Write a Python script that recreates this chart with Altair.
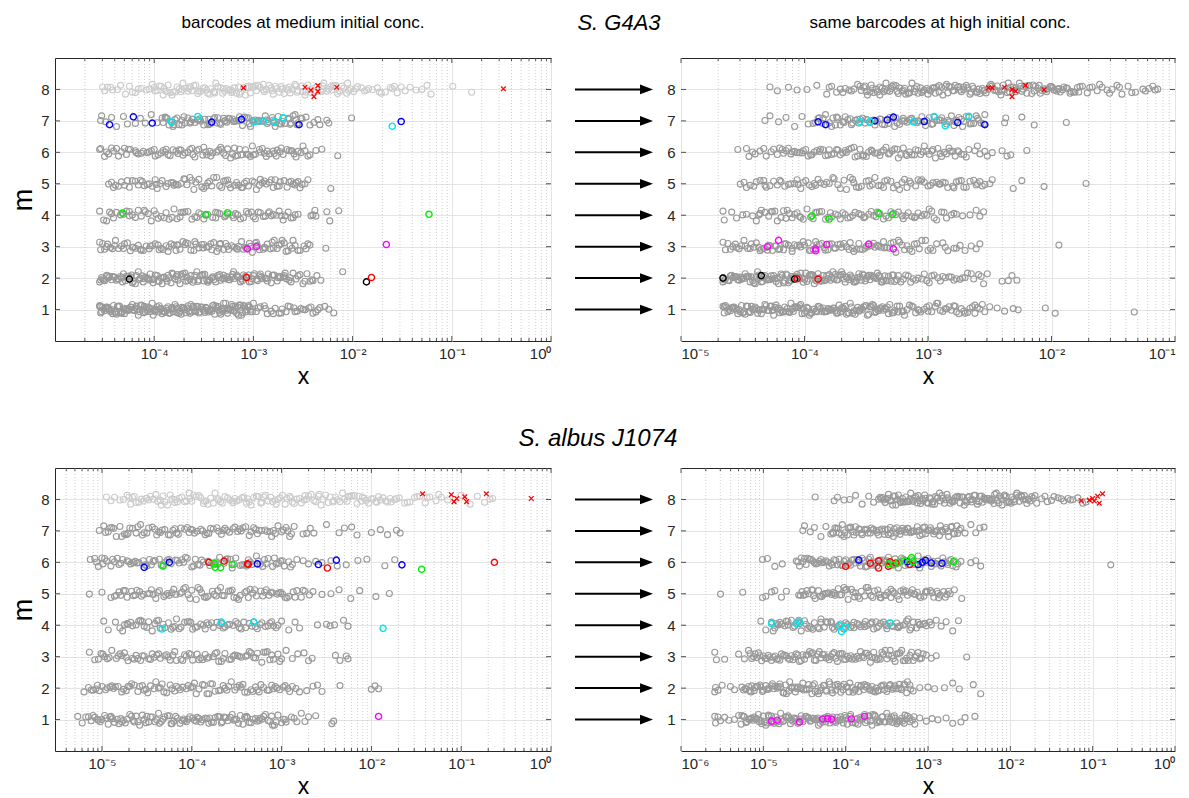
import altair as alt
import pandas as pd

FONT = "Liberation Sans"
GRAY = "#999999"
LIGHT = "#cccccc"
FRAME = "#262626"
COL = {"b": "#0000ff", "c": "#00e5ee", "g": "#00ee00", "mg": "#ff00ff",
       "r": "#ff0000", "k": "#000000"}

# hand-read vertical scatter of the circles around each m level
JIT = [0.03, -0.08, 0.12, -0.02, 0.06, -0.13, 0.01, 0.10, -0.05, 0.16, -0.11, 0.04,
       -0.03, 0.08, -0.12, 0.11, -0.04, 0.02, -0.18, 0.07, -0.07, 0.14, -0.02, 0.09,
       -0.10, 0.00, 0.05, -0.08, 0.13, -0.05, 0.08, -0.15, 0.03, -0.07, 0.10, -0.01,
       0.20, -0.09, 0.05, -0.06, 0.01, -0.12, 0.09]

# ================= S. G4A3, medium conc. (log10 x per m level) =================
tl_m8 = [-4.52,-4.50,-4.47,-4.42,-4.37,-4.34,-4.29,-4.25,-4.22,-4.16,-4.13,-4.08,-4.05,-4.02,-3.97,-3.95,-3.91,-3.86,-3.84,-3.81,-3.77,-3.73,-3.71,-3.66,-3.64,-3.60,-3.56,-3.53,-3.51,-3.46,-3.43,-3.40,-3.36,-3.33,-3.29,-3.27,-3.23,-3.19,-3.17,-3.13,-3.10,-3.06,-3.03,-3.00,-2.97,-2.93,-2.90,-2.87,-2.84,-2.80,-2.78,-2.74,-2.71,-2.67,-2.65,-2.61,-2.58,-2.55,-2.51,-2.48,-2.45,-2.42,-2.38,-2.36,-2.32,-2.29,-2.26,-2.22,-2.19,-2.15,-2.13,-2.09,-2.06,-2.02,-1.99,-1.95,-1.91,-1.88,-1.84,-1.80,-1.75,-1.71,-1.67,-1.62,-1.58,-1.55,-1.51,-1.47,-1.42,-1.36,-1.30,-1.25,-1.21,-0.99,-0.80]
tl_m8b = [-4.44,-4.19,-3.99,-3.93,-3.88,-3.79,-3.75,-3.68,-3.62,-3.58,-3.49,-3.44,-3.38,-3.31,-3.25,-3.21,-3.15,-3.08,-3.02,-2.95,-2.89,-2.82,-2.76,-2.69,-2.63,-2.57,-2.50,-2.43,-2.37,-2.30,-2.24,-2.17,-2.11,-2.04,-1.97,-1.86,-1.73,-1.60]
tl_m8c = [-4.00,-3.90,-3.82,-3.72,-3.65,-3.55,-3.47,-3.39,-3.30,-3.22,-3.14,-3.05,-2.98,-2.90,-2.81,-2.72,-2.64,-2.56,-2.47,-2.39,-2.30,-2.21,-2.13,-2.05]
tl_m7 = [-4.54,-4.53,-4.49,-4.43,-4.38,-4.31,-4.27,-4.19,-4.14,-4.09,-4.03,-3.97,-3.92,-3.89,-3.85,-3.82,-3.79,-3.75,-3.72,-3.69,-3.66,-3.62,-3.59,-3.56,-3.53,-3.49,-3.46,-3.43,-3.40,-3.36,-3.33,-3.30,-3.27,-3.24,-3.20,-3.17,-3.14,-3.11,-3.07,-3.04,-3.01,-2.98,-2.94,-2.91,-2.88,-2.85,-2.81,-2.78,-2.75,-2.72,-2.68,-2.65,-2.62,-2.58,-2.55,-2.52,-2.47,-2.43,-2.39,-2.35,-2.33,-2.26,-2.24,-2.01]
tl_m7b = [-3.91,-3.87,-3.81,-3.77,-3.70,-3.64,-3.61,-3.55,-3.50,-3.44,-3.39,-3.34,-3.29,-3.25,-3.19,-3.15,-3.09,-3.05,-3.00,-2.95,-2.90,-2.86,-2.80,-2.74,-2.70,-2.64,-2.60,-2.56,-2.51]
tl_m7c = [-3.88,-3.80,-3.72,-3.63,-3.54,-3.45,-3.37,-3.28,-3.21,-3.12,-3.03,-2.96,-2.87,-2.79,-2.71,-2.63,-2.57]
tl_m6 = [-4.55,-4.54,-4.50,-4.46,-4.41,-4.36,-4.33,-4.28,-4.24,-4.19,-4.16,-4.11,-4.07,-4.03,-3.99,-3.96,-3.91,-3.88,-3.84,-3.81,-3.76,-3.73,-3.69,-3.66,-3.62,-3.59,-3.55,-3.51,-3.48,-3.44,-3.41,-3.37,-3.33,-3.30,-3.26,-3.23,-3.19,-3.16,-3.12,-3.08,-3.05,-3.01,-2.98,-2.94,-2.91,-2.87,-2.84,-2.80,-2.77,-2.73,-2.70,-2.66,-2.62,-2.59,-2.55,-2.52,-2.48,-2.45,-2.43,-2.37,-2.31,-2.15]
tl_m6b = [-4.48,-4.38,-4.26,-4.13,-4.05,-3.93,-3.86,-3.78,-3.71,-3.64,-3.57,-3.50,-3.43,-3.35,-3.28,-3.21,-3.14,-3.07,-3.00,-2.93,-2.86,-2.79,-2.72,-2.64,-2.57,-2.50]
tl_m6c = [-4.43,-4.30,-4.18,-4.00,-3.89,-3.75,-3.61,-3.47,-3.32,-3.18,-3.03,-2.89,-2.76,-2.61]
tl_m5 = [-4.46,-4.43,-4.41,-4.36,-4.33,-4.27,-4.25,-4.19,-4.16,-4.12,-4.07,-4.05,-3.99,-3.97,-3.92,-3.88,-3.86,-3.81,-3.78,-3.73,-3.70,-3.67,-3.62,-3.60,-3.55,-3.52,-3.48,-3.44,-3.42,-3.37,-3.34,-3.30,-3.26,-3.23,-3.19,-3.17,-3.12,-3.09,-3.05,-3.01,-2.99,-2.94,-2.91,-2.87,-2.84,-2.80,-2.76,-2.73,-2.69,-2.66,-2.62,-2.58,-2.55,-2.51,-2.48,-2.45,-2.22]
tl_m5b = [-4.39,-4.22,-4.10,-4.02,-3.94,-3.83,-3.76,-3.69,-3.58,-3.50,-3.40,-3.32,-3.25,-3.15,-3.07,-2.97,-2.89,-2.82,-2.74,-2.64,-2.57,-2.53]
tl_m5c = [-4.30,-4.14,-3.98,-3.80,-3.64,-3.46,-3.28,-3.11,-2.93,-2.78,-2.60]
tl_m4 = [-4.55,-4.51,-4.45,-4.41,-4.34,-4.31,-4.25,-4.22,-4.16,-4.13,-4.09,-4.03,-4.00,-3.96,-3.90,-3.88,-3.82,-3.80,-3.74,-3.71,-3.66,-3.62,-3.59,-3.53,-3.50,-3.46,-3.41,-3.38,-3.34,-3.29,-3.26,-3.21,-3.18,-3.13,-3.10,-3.05,-3.02,-2.98,-2.93,-2.90,-2.85,-2.82,-2.77,-2.74,-2.70,-2.65,-2.62,-2.58,-2.55,-2.42,-2.40,-2.38,-2.37,-2.26,-2.23,-2.14]
tl_m4b = [-4.48,-4.38,-4.28,-4.19,-4.06,-3.98,-3.85,-3.77,-3.69,-3.57,-3.48,-3.36,-3.28,-3.16,-3.07,-2.95,-2.88,-2.80,-2.72,-2.60]
tl_m4c = [-4.43,-4.25,-4.10,-3.93,-3.73,-3.55,-3.38,-3.20,-3.00,-2.84,-2.68]
tl_m3 = [-4.55,-4.54,-4.50,-4.47,-4.42,-4.39,-4.36,-4.30,-4.27,-4.24,-4.19,-4.16,-4.11,-4.08,-4.05,-3.99,-3.96,-3.93,-3.88,-3.85,-3.80,-3.78,-3.74,-3.69,-3.66,-3.63,-3.58,-3.55,-3.52,-3.47,-3.45,-3.40,-3.37,-3.33,-3.30,-3.26,-3.22,-3.19,-3.15,-3.12,-3.08,-3.04,-3.01,-2.97,-2.94,-2.90,-2.86,-2.83,-2.79,-2.76,-2.72,-2.69,-2.65,-2.61,-2.58,-2.53,-2.49,-2.47,-2.45,-2.43,-2.27]
tl_m3b = [-4.52,-4.44,-4.33,-4.21,-4.14,-4.02,-3.91,-3.83,-3.76,-3.71,-3.60,-3.50,-3.42,-3.35,-3.28,-3.17,-3.10,-3.03,-2.96,-2.88,-2.81,-2.74,-2.67,-2.60,-2.55]
tl_m3c = [-4.48,-4.40,-4.31,-4.22,-4.13,-4.04,-3.95,-3.86,-3.77,-3.68,-3.59,-3.51,-3.43,-3.34,-3.25,-3.16,-3.07,-2.98,-2.89,-2.80,-2.71,-2.63]
tl_m2 = [-4.55,-4.53,-4.51,-4.48,-4.45,-4.43,-4.40,-4.37,-4.34,-4.32,-4.29,-4.26,-4.23,-4.21,-4.18,-4.15,-4.12,-4.10,-4.07,-4.04,-4.01,-3.99,-3.96,-3.93,-3.90,-3.88,-3.85,-3.82,-3.79,-3.77,-3.74,-3.71,-3.68,-3.66,-3.63,-3.60,-3.57,-3.55,-3.52,-3.49,-3.46,-3.44,-3.41,-3.38,-3.35,-3.33,-3.30,-3.27,-3.24,-3.22,-3.19,-3.16,-3.13,-3.11,-3.08,-3.05,-3.02,-3.00,-2.97,-2.94,-2.91,-2.88,-2.85,-2.82,-2.79,-2.76,-2.73,-2.70,-2.67,-2.63,-2.60,-2.57,-2.53,-2.50,-2.46,-2.43,-2.40,-2.36,-2.32,-2.10]
tl_m2b = [-4.54,-4.50,-4.46,-4.41,-4.36,-4.31,-4.27,-4.22,-4.16,-4.11,-4.06,-4.02,-3.97,-3.92,-3.86,-3.81,-3.76,-3.72,-3.67,-3.61,-3.56,-3.51,-3.47,-3.42,-3.36,-3.31,-3.26,-3.21,-3.17,-3.12,-3.06,-3.01,-2.96,-2.92,-2.86,-2.80,-2.74,-2.68,-2.62,-2.55,-2.48,-2.41]
tl_m2c = [-4.52,-4.47,-4.42,-4.38,-4.33,-4.28,-4.24,-4.19,-4.14,-4.09,-4.05,-4.00,-3.95,-3.91,-3.87,-3.83,-3.78,-3.73,-3.69,-3.64,-3.59,-3.54,-3.50,-3.45,-3.40,-3.34,-3.29,-3.25,-3.20,-3.15,-3.10,-3.04,-2.99,-2.93,-2.87,-2.81,-2.75,-2.69,-2.64]
tl_m1 = [-4.55,-4.54,-4.52,-4.50,-4.47,-4.45,-4.43,-4.41,-4.38,-4.36,-4.34,-4.31,-4.29,-4.27,-4.25,-4.22,-4.20,-4.18,-4.16,-4.13,-4.11,-4.09,-4.06,-4.04,-4.02,-3.99,-3.97,-3.95,-3.92,-3.90,-3.88,-3.85,-3.83,-3.81,-3.78,-3.76,-3.74,-3.71,-3.69,-3.67,-3.64,-3.62,-3.60,-3.57,-3.55,-3.53,-3.50,-3.48,-3.46,-3.43,-3.41,-3.39,-3.36,-3.34,-3.32,-3.29,-3.27,-3.25,-3.22,-3.20,-3.18,-3.15,-3.13,-3.11,-3.08,-3.06,-3.03,-3.00,-2.97,-2.93,-2.89,-2.86,-2.82,-2.78,-2.74,-2.71,-2.67,-2.63,-2.59,-2.56,-2.52,-2.48,-2.44,-2.40,-2.37,-2.33,-2.28,-2.19]
tl_m1b = [-4.55,-4.53,-4.49,-4.46,-4.42,-4.39,-4.35,-4.32,-4.28,-4.24,-4.21,-4.17,-4.14,-4.10,-4.07,-4.03,-4.00,-3.96,-3.93,-3.89,-3.86,-3.82,-3.79,-3.75,-3.72,-3.68,-3.65,-3.61,-3.58,-3.54,-3.51,-3.47,-3.44,-3.40,-3.37,-3.33,-3.30,-3.26,-3.23,-3.19,-3.16,-3.12,-3.09,-3.05,-3.01,-2.95,-2.88,-2.80,-2.72,-2.65,-2.58,-2.50,-2.42,-2.35,-2.24]
tl_m1c = [-4.54,-4.51,-4.48,-4.44,-4.40,-4.37,-4.33,-4.30,-4.26,-4.23,-4.19,-4.15,-4.12,-4.08,-4.05,-4.01,-3.98,-3.94,-3.91,-3.87,-3.84,-3.80,-3.77,-3.73,-3.70,-3.66,-3.63,-3.59,-3.56,-3.52,-3.49,-3.45,-3.42,-3.38,-3.35,-3.31,-3.28,-3.24,-3.21,-3.17,-3.14,-3.10,-3.07,-3.04,-3.02]

# ================= S. G4A3, high conc. =================
tr_m8 = [-4.28,-4.22,-4.13,-4.06,-3.98,-3.90,-3.82,-3.78,-3.74,-3.71,-3.67,-3.64,-3.60,-3.57,-3.54,-3.51,-3.49,-3.46,-3.44,-3.41,-3.39,-3.36,-3.34,-3.31,-3.29,-3.26,-3.24,-3.21,-3.19,-3.16,-3.14,-3.11,-3.09,-3.06,-3.04,-3.01,-2.99,-2.96,-2.94,-2.91,-2.89,-2.86,-2.84,-2.81,-2.79,-2.76,-2.74,-2.71,-2.69,-2.66,-2.64,-2.61,-2.59,-2.56,-2.54,-2.51,-2.49,-2.46,-2.44,-2.41,-2.39,-2.36,-2.34,-2.31,-2.29,-2.26,-2.24,-2.21,-2.19,-2.16,-2.14,-2.11,-2.09,-2.06,-2.04,-2.01,-1.99,-1.96,-1.94,-1.91,-1.88,-1.85,-1.82,-1.79,-1.75,-1.71,-1.67,-1.63,-1.59,-1.55,-1.51,-1.47,-1.43,-1.38,-1.32,-1.26,-1.21,-1.16,-1.14]
tr_m8b = [-3.80,-3.69,-3.62,-3.55,-3.50,-3.47,-3.42,-3.37,-3.33,-3.28,-3.23,-3.18,-3.13,-3.08,-3.03,-2.98,-2.93,-2.88,-2.83,-2.78,-2.73,-2.68,-2.63,-2.58,-2.53,-2.48,-2.43,-2.38,-2.33,-2.28,-2.23,-2.18,-2.13,-2.08,-2.03,-1.98,-1.93,-1.87,-1.81,-1.77,-1.69,-1.61,-1.53,-1.45,-1.35,-1.24,-1.18]
tr_m8c = [-3.52,-3.45,-3.39,-3.35,-3.30,-3.25,-3.20,-3.15,-3.11,-3.05,-3.00,-2.95,-2.91,-2.85,-2.80,-2.75,-2.71,-2.65,-2.60,-2.55,-2.50,-2.45,-2.40,-2.35,-2.30,-2.25,-2.20,-2.15,-2.10,-2.05,-2.00,-1.95,-1.90,-1.84,-1.78]
tr_m7 = [-4.32,-4.28,-4.21,-4.15,-4.08,-4.02,-3.97,-3.93,-3.89,-3.86,-3.83,-3.80,-3.77,-3.74,-3.71,-3.68,-3.65,-3.62,-3.59,-3.56,-3.53,-3.50,-3.47,-3.44,-3.41,-3.38,-3.35,-3.32,-3.29,-3.26,-3.23,-3.20,-3.17,-3.14,-3.11,-3.08,-3.05,-3.02,-2.99,-2.96,-2.93,-2.90,-2.87,-2.84,-2.81,-2.78,-2.75,-2.72,-2.69,-2.66,-2.63,-2.60,-2.57,-2.54,-2.38,-2.37,-2.24,-2.14,-1.88]
tr_m7b = [-3.91,-3.85,-3.78,-3.73,-3.67,-3.61,-3.55,-3.49,-3.43,-3.37,-3.31,-3.25,-3.19,-3.13,-3.07,-3.01,-2.95,-2.89,-2.83,-2.77,-2.71,-2.65,-2.59,-2.55]
tr_m7c = [-3.88,-3.82,-3.75,-3.69,-3.63,-3.57,-3.51,-3.45,-3.39,-3.33,-3.27,-3.21,-3.15,-3.09,-3.03,-2.97,-2.91,-2.85,-2.79,-2.73,-2.67,-2.61]
tr_m6 = [-4.54,-4.47,-4.45,-4.40,-4.36,-4.31,-4.27,-4.22,-4.18,-4.15,-4.11,-4.08,-4.04,-4.01,-3.97,-3.94,-3.90,-3.87,-3.83,-3.80,-3.76,-3.73,-3.69,-3.66,-3.62,-3.59,-3.55,-3.52,-3.48,-3.45,-3.41,-3.38,-3.34,-3.31,-3.27,-3.24,-3.20,-3.17,-3.13,-3.10,-3.06,-3.03,-2.99,-2.96,-2.92,-2.89,-2.85,-2.82,-2.78,-2.75,-2.71,-2.67,-2.62,-2.58,-2.54,-2.48,-2.40,-2.36,-2.33,-2.20]
tr_m6b = [-4.42,-4.33,-4.25,-4.17,-4.10,-4.02,-3.95,-3.88,-3.81,-3.74,-3.67,-3.60,-3.53,-3.46,-3.39,-3.32,-3.25,-3.18,-3.11,-3.04,-2.97,-2.90,-2.83,-2.76,-2.69,-2.60,-2.52]
tr_m6c = [-4.20,-4.13,-4.06,-3.99,-3.92,-3.85,-3.78,-3.71,-3.64,-3.57,-3.50,-3.43,-3.36,-3.29,-3.22,-3.15,-3.08,-3.01,-2.94,-2.87,-2.80,-2.73]
tr_m5 = [-4.52,-4.49,-4.47,-4.41,-4.39,-4.33,-4.31,-4.25,-4.22,-4.19,-4.13,-4.11,-4.06,-4.03,-3.99,-3.94,-3.92,-3.87,-3.84,-3.80,-3.76,-3.73,-3.68,-3.66,-3.61,-3.58,-3.54,-3.50,-3.47,-3.43,-3.40,-3.35,-3.33,-3.28,-3.25,-3.21,-3.17,-3.14,-3.10,-3.06,-3.03,-2.98,-2.96,-2.91,-2.88,-2.84,-2.80,-2.77,-2.73,-2.69,-2.66,-2.61,-2.58,-2.54,-2.50,-2.48,-2.31,-2.24,-2.06,-1.72]
tr_m5b = [-4.44,-4.36,-4.28,-4.16,-4.08,-4.01,-3.96,-3.89,-3.82,-3.71,-3.63,-3.56,-3.45,-3.38,-3.30,-3.23,-3.15,-3.08,-3.00,-2.93,-2.86,-2.79,-2.71,-2.63,-2.56]
tr_m5c = [-4.32,-4.20,-4.05,-3.91,-3.77,-3.60,-3.48,-3.36,-3.19,-3.05,-2.90,-2.75,-2.60]
tr_m4 = [-4.66,-4.65,-4.59,-4.55,-4.50,-4.47,-4.42,-4.37,-4.35,-4.29,-4.26,-4.22,-4.17,-4.15,-4.10,-4.06,-4.03,-3.98,-3.95,-3.90,-3.86,-3.83,-3.78,-3.75,-3.71,-3.67,-3.63,-3.59,-3.56,-3.51,-3.48,-3.44,-3.39,-3.36,-3.32,-3.28,-3.24,-3.20,-3.16,-3.13,-3.08,-3.05,-3.01,-2.97,-2.93,-2.89,-2.85,-2.81,-2.77,-2.72,-2.66,-2.61,-2.58,-2.55]
tr_m4b = [-4.39,-4.32,-4.24,-4.19,-4.12,-4.08,-4.01,-3.93,-3.88,-3.81,-3.73,-3.69,-3.61,-3.54,-3.46,-3.41,-3.34,-3.26,-3.18,-3.11,-3.03,-2.95,-2.87,-2.79]
tr_m4c = [-4.36,-4.27,-4.14,-4.04,-3.91,-3.79,-3.65,-3.52,-3.42,-3.30,-3.21,-3.10,-2.99]
tr_m3 = [-4.66,-4.64,-4.60,-4.56,-4.53,-4.49,-4.46,-4.43,-4.39,-4.36,-4.33,-4.29,-4.26,-4.23,-4.20,-4.16,-4.13,-4.10,-4.06,-4.03,-4.00,-3.96,-3.93,-3.90,-3.86,-3.83,-3.80,-3.76,-3.73,-3.70,-3.66,-3.63,-3.60,-3.56,-3.53,-3.50,-3.46,-3.43,-3.40,-3.36,-3.33,-3.30,-3.26,-3.23,-3.19,-3.15,-3.11,-3.07,-3.02,-2.98,-2.93,-2.88,-2.84,-2.79,-2.74,-2.70,-2.65,-2.61,-2.58,-1.94]
tr_m3b = [-4.62,-4.55,-4.48,-4.41,-4.35,-4.28,-4.21,-4.15,-4.08,-4.01,-3.95,-3.88,-3.81,-3.75,-3.68,-3.61,-3.55,-3.48,-3.41,-3.35,-3.28,-3.21,-3.13,-3.05,-2.96,-2.86,-2.77]
tr_m3c = [-4.58,-4.51,-4.44,-4.37,-4.30,-4.24,-4.17,-4.10,-4.04,-3.97,-3.91,-3.84,-3.78,-3.71,-3.64,-3.58,-3.51,-3.44,-3.38,-3.31,-3.24,-3.17,-3.09,-3.00]
tr_m2 = [-4.66,-4.66,-4.62,-4.59,-4.57,-4.54,-4.52,-4.49,-4.47,-4.44,-4.42,-4.39,-4.37,-4.34,-4.32,-4.29,-4.27,-4.24,-4.22,-4.19,-4.17,-4.14,-4.12,-4.09,-4.07,-4.04,-4.02,-3.99,-3.97,-3.94,-3.92,-3.89,-3.87,-3.84,-3.82,-3.79,-3.77,-3.74,-3.72,-3.69,-3.67,-3.64,-3.62,-3.59,-3.57,-3.54,-3.52,-3.49,-3.47,-3.44,-3.42,-3.39,-3.37,-3.34,-3.32,-3.29,-3.27,-3.24,-3.20,-3.16,-3.12,-3.08,-3.03,-2.99,-2.95,-2.90,-2.86,-2.81,-2.77,-2.72,-2.68,-2.63,-2.59,-2.55,-2.52,-2.40,-2.35,-2.32,-2.28]
tr_m2b = [-4.65,-4.61,-4.58,-4.55,-4.51,-4.48,-4.45,-4.41,-4.38,-4.35,-4.31,-4.28,-4.25,-4.21,-4.18,-4.15,-4.11,-4.08,-4.05,-4.01,-3.98,-3.95,-3.91,-3.88,-3.85,-3.81,-3.78,-3.75,-3.71,-3.68,-3.65,-3.61,-3.58,-3.55,-3.51,-3.48,-3.45,-3.41,-3.38,-3.35,-3.30,-3.25,-3.18,-3.10,-3.01,-2.92,-2.83,-2.74,-2.65,-2.57]
tr_m2c = [-4.64,-4.60,-4.56,-4.53,-4.50,-4.46,-4.43,-4.40,-4.36,-4.33,-4.30,-4.26,-4.23,-4.20,-4.16,-4.13,-4.10,-4.06,-4.03,-4.00,-3.96,-3.93,-3.90,-3.86,-3.83,-3.80,-3.76,-3.73,-3.70,-3.66,-3.63,-3.60,-3.56,-3.53,-3.50,-3.46,-3.43,-3.40,-3.36,-3.33,-3.28,-3.22,-3.14,-3.05,-2.97,-2.88,-2.79,-2.70]
tr_m1 = [-4.66,-4.65,-4.63,-4.60,-4.58,-4.55,-4.53,-4.51,-4.48,-4.46,-4.44,-4.41,-4.39,-4.37,-4.34,-4.32,-4.30,-4.27,-4.25,-4.23,-4.20,-4.18,-4.16,-4.13,-4.11,-4.09,-4.06,-4.04,-4.02,-3.99,-3.97,-3.95,-3.92,-3.90,-3.88,-3.85,-3.83,-3.81,-3.78,-3.76,-3.74,-3.71,-3.69,-3.67,-3.64,-3.62,-3.60,-3.57,-3.55,-3.53,-3.50,-3.48,-3.46,-3.43,-3.41,-3.39,-3.36,-3.34,-3.31,-3.27,-3.23,-3.19,-3.15,-3.10,-3.06,-3.01,-2.97,-2.92,-2.88,-2.83,-2.79,-2.75,-2.71,-2.66,-2.62,-2.58,-2.54,-2.50,-2.44,-2.38,-2.31,-2.27,-2.05,-1.97,-1.33]
tr_m1b = [-4.64,-4.62,-4.59,-4.56,-4.54,-4.50,-4.47,-4.45,-4.42,-4.40,-4.36,-4.33,-4.31,-4.28,-4.26,-4.22,-4.19,-4.17,-4.14,-4.12,-4.08,-4.05,-4.03,-4.00,-3.98,-3.94,-3.91,-3.89,-3.86,-3.84,-3.80,-3.77,-3.75,-3.72,-3.70,-3.66,-3.63,-3.61,-3.58,-3.56,-3.52,-3.49,-3.47,-3.44,-3.42,-3.38,-3.35,-3.32,-3.29,-3.25,-3.21,-3.17,-3.12,-3.08,-3.03,-2.99,-2.94,-2.90,-2.85,-2.81,-2.77,-2.73,-2.68,-2.64,-2.60,-2.56]
tr_m1c = [-4.65,-4.61,-4.57,-4.52,-4.49,-4.43,-4.38,-4.35,-4.29,-4.24,-4.21,-4.15,-4.10,-4.07,-4.01,-3.96,-3.93,-3.87,-3.82,-3.79,-3.73,-3.68,-3.65,-3.59,-3.54,-3.51,-3.45,-3.40,-3.37,-3.33,-3.28,-3.24,-3.20,-3.13,-3.07,-3.00,-2.93,-2.86,-2.78,-2.70,-2.62]

# ================= S. albus J1074, medium conc. =================
bl_m8 = [-4.95,-4.90,-4.86,-4.80,-4.76,-4.72,-4.68,-4.64,-4.59,-4.56,-4.51,-4.48,-4.43,-4.40,-4.35,-4.32,-4.27,-4.24,-4.19,-4.16,-4.11,-4.08,-4.03,-4.00,-3.95,-3.92,-3.87,-3.84,-3.79,-3.76,-3.71,-3.68,-3.63,-3.60,-3.55,-3.52,-3.47,-3.44,-3.39,-3.36,-3.31,-3.28,-3.23,-3.20,-3.15,-3.12,-3.07,-3.04,-2.99,-2.96,-2.91,-2.88,-2.83,-2.80,-2.75,-2.72,-2.67,-2.64,-2.59,-2.56,-2.51,-2.48,-2.43,-2.40,-2.35,-2.32,-2.27,-2.24,-2.19,-2.16,-2.11,-2.08,-2.03,-2.00,-1.95,-1.92,-1.87,-1.84,-1.79,-1.74,-1.69,-1.63,-1.57,-1.52,-1.46,-1.40,-1.35,-1.28,-1.22,-1.15,-1.07,-1.00,-0.90,-0.82,-0.74,-0.68,-0.65]
bl_m8b = [-4.70,-4.62,-4.54,-4.46,-4.38,-4.30,-4.22,-4.14,-4.06,-3.98,-3.90,-3.82,-3.74,-3.66,-3.58,-3.50,-3.42,-3.34,-3.26,-3.18,-3.10,-3.02,-2.94,-2.86,-2.78,-2.70,-2.62,-2.54,-2.46,-2.38,-2.30,-2.22,-2.14,-2.06,-1.98,-1.90,-1.82,-1.72,-1.60,-1.49,-1.38,-1.25]
bl_m8c = [-4.66,-4.50,-4.34,-4.18,-4.02,-3.86,-3.70,-3.54,-3.38,-3.22,-3.06,-2.90,-2.74,-2.58,-2.42,-2.26,-2.10,-1.94,-1.78]
bl_m7 = [-5.03,-4.98,-4.93,-4.89,-4.84,-4.80,-4.75,-4.71,-4.66,-4.62,-4.57,-4.53,-4.48,-4.44,-4.39,-4.35,-4.30,-4.26,-4.21,-4.17,-4.12,-4.08,-4.03,-3.99,-3.94,-3.90,-3.85,-3.81,-3.76,-3.72,-3.67,-3.63,-3.58,-3.54,-3.49,-3.45,-3.40,-3.36,-3.31,-3.27,-3.22,-3.18,-3.13,-3.09,-3.04,-3.00,-2.95,-2.91,-2.86,-2.76,-2.72,-2.68,-2.64,-2.50,-2.36,-2.30,-2.22,-2.16,-2.00,-1.90,-1.82,-1.72,-1.68]
bl_m7b = [-4.96,-4.87,-4.78,-4.69,-4.60,-4.50,-4.41,-4.33,-4.24,-4.15,-4.05,-3.97,-3.88,-3.79,-3.70,-3.61,-3.52,-3.43,-3.34,-3.25,-3.16,-3.07,-2.98,-2.89]
bl_m7c = [-4.91,-4.73,-4.55,-4.37,-4.19,-4.01,-3.83,-3.65,-3.47,-3.29,-3.11,-2.93]
bl_m6 = [-5.13,-5.08,-5.04,-4.99,-4.95,-4.90,-4.86,-4.81,-4.77,-4.72,-4.68,-4.63,-4.59,-4.54,-4.50,-4.45,-4.41,-4.36,-4.32,-4.27,-4.23,-4.18,-4.14,-4.09,-4.05,-4.00,-3.96,-3.91,-3.87,-3.82,-3.78,-3.73,-3.69,-3.64,-3.60,-3.55,-3.51,-3.46,-3.42,-3.37,-3.33,-3.28,-3.24,-3.19,-3.15,-3.10,-3.06,-3.01,-2.97,-2.92,-2.88,-2.83,-2.76,-2.70,-2.62,-2.55,-2.45,-2.38,-2.28,-2.15,-2.05,-1.85,-1.74]
bl_m6b = [-5.06,-4.97,-4.88,-4.79,-4.70,-4.61,-4.52,-4.43,-4.34,-4.25,-4.16,-4.07,-3.98,-3.89,-3.80,-3.71,-3.62,-3.53,-3.44,-3.35,-3.26,-3.17,-3.08,-2.99,-2.90]
bl_m6c = [-5.00,-4.83,-4.65,-4.47,-4.29,-4.11,-3.93,-3.75,-3.57,-3.39,-3.21,-3.03]
bl_m5 = [-5.14,-5.00,-4.90,-4.86,-4.81,-4.76,-4.72,-4.67,-4.63,-4.58,-4.54,-4.49,-4.45,-4.40,-4.36,-4.31,-4.27,-4.22,-4.18,-4.13,-4.09,-4.04,-4.00,-3.95,-3.91,-3.86,-3.82,-3.77,-3.73,-3.68,-3.64,-3.59,-3.55,-3.50,-3.46,-3.41,-3.37,-3.32,-3.28,-3.23,-3.19,-3.14,-3.10,-3.05,-3.01,-2.96,-2.92,-2.87,-2.83,-2.78,-2.74,-2.69,-2.65,-2.55,-2.45,-2.36,-2.23,-2.13,-1.95,-1.80]
bl_m5b = [-4.84,-4.74,-4.65,-4.56,-4.47,-4.38,-4.29,-4.20,-4.11,-4.02,-3.93,-3.84,-3.75,-3.66,-3.57,-3.48,-3.39,-3.30,-3.21,-3.12,-3.03,-2.94,-2.85,-2.76]
bl_m5c = [-4.79,-4.61,-4.43,-4.25,-4.07,-3.89,-3.71,-3.53,-3.35,-3.17,-2.99]
bl_m4 = [-4.98,-4.93,-4.85,-4.80,-4.75,-4.71,-4.66,-4.62,-4.57,-4.53,-4.48,-4.44,-4.39,-4.35,-4.30,-4.26,-4.21,-4.17,-4.12,-4.08,-4.03,-3.99,-3.94,-3.90,-3.85,-3.81,-3.76,-3.72,-3.67,-3.63,-3.58,-3.54,-3.49,-3.45,-3.40,-3.36,-3.31,-3.27,-3.22,-3.18,-3.13,-3.09,-3.04,-3.00,-2.92,-2.85,-2.80,-2.60,-2.50,-2.46,-2.41,-2.31,-2.26]
bl_m4b = [-4.77,-4.68,-4.59,-4.50,-4.41,-4.32,-4.23,-4.14,-4.05,-3.96,-3.87,-3.78,-3.69,-3.60,-3.51,-3.42,-3.33,-3.24,-3.15,-3.06]
bl_m4c = [-4.72,-4.55,-4.37,-4.19,-4.01,-3.83,-3.65,-3.47,-3.29,-3.11]
bl_m3 = [-5.14,-5.08,-5.04,-4.99,-4.94,-4.89,-4.84,-4.80,-4.75,-4.71,-4.66,-4.62,-4.57,-4.53,-4.48,-4.44,-4.39,-4.35,-4.30,-4.26,-4.21,-4.17,-4.12,-4.08,-4.03,-3.99,-3.94,-3.90,-3.85,-3.81,-3.76,-3.72,-3.67,-3.63,-3.58,-3.54,-3.49,-3.45,-3.40,-3.36,-3.31,-3.27,-3.22,-3.18,-3.13,-3.09,-3.04,-3.00,-2.95,-2.88,-2.82,-2.75,-2.70,-2.66,-2.40,-2.35,-2.28,-2.26]
bl_m3b = [-5.01,-4.92,-4.82,-4.73,-4.64,-4.55,-4.46,-4.37,-4.28,-4.19,-4.10,-4.01,-3.92,-3.83,-3.74,-3.65,-3.56,-3.47,-3.38,-3.29,-3.20,-3.11,-3.02]
bl_m3c = [-4.97,-4.78,-4.60,-4.42,-4.24,-4.06,-3.88,-3.70,-3.52,-3.34,-3.16]
bl_m2 = [-5.20,-5.15,-5.10,-5.05,-5.00,-4.96,-4.91,-4.87,-4.82,-4.78,-4.73,-4.69,-4.64,-4.60,-4.55,-4.51,-4.46,-4.42,-4.37,-4.33,-4.28,-4.24,-4.19,-4.15,-4.10,-4.06,-4.01,-3.97,-3.92,-3.88,-3.83,-3.79,-3.74,-3.70,-3.65,-3.61,-3.56,-3.52,-3.47,-3.43,-3.38,-3.34,-3.29,-3.25,-3.20,-3.16,-3.11,-3.07,-3.02,-2.98,-2.93,-2.88,-2.80,-2.72,-2.65,-2.60,-2.55,-2.35,-2.00,-1.96,-1.92]
bl_m2b = [-5.12,-5.03,-4.94,-4.85,-4.76,-4.67,-4.58,-4.49,-4.40,-4.31,-4.22,-4.13,-4.04,-3.95,-3.86,-3.77,-3.68,-3.59,-3.50,-3.41,-3.32,-3.23,-3.14,-3.05,-2.96,-2.84]
bl_m2c = [-5.07,-4.89,-4.71,-4.53,-4.35,-4.17,-3.99,-3.81,-3.63,-3.45,-3.27,-3.09,-2.91]
bl_m1 = [-5.27,-5.22,-5.18,-5.12,-5.08,-5.04,-5.00,-4.97,-4.93,-4.90,-4.86,-4.83,-4.79,-4.76,-4.72,-4.69,-4.65,-4.62,-4.58,-4.55,-4.51,-4.48,-4.44,-4.41,-4.37,-4.34,-4.30,-4.27,-4.23,-4.20,-4.16,-4.13,-4.09,-4.06,-4.02,-3.99,-3.95,-3.92,-3.88,-3.85,-3.81,-3.78,-3.74,-3.71,-3.67,-3.64,-3.60,-3.57,-3.53,-3.50,-3.46,-3.43,-3.39,-3.36,-3.32,-3.29,-3.25,-3.22,-3.18,-3.15,-3.11,-3.08,-3.04,-3.00,-2.95,-2.89,-2.83,-2.78,-2.74,-2.70,-2.62,-2.44,-2.42]
bl_m1b = [-5.10,-5.02,-4.95,-4.88,-4.81,-4.74,-4.67,-4.60,-4.53,-4.46,-4.39,-4.32,-4.25,-4.18,-4.11,-4.04,-3.97,-3.90,-3.83,-3.76,-3.69,-3.62,-3.55,-3.48,-3.41,-3.34,-3.27,-3.20,-3.13,-3.06,-2.98,-2.86]
bl_m1c = [-5.15,-5.05,-4.91,-4.78,-4.64,-4.50,-4.36,-4.22,-4.08,-3.94,-3.80,-3.66,-3.52,-3.38,-3.24,-3.10,-2.96]

# ================= S. albus J1074, high conc. =================
br_m8 = [-4.37,-4.14,-4.10,-4.02,-3.95,-3.88,-3.80,-3.72,-3.66,-3.60,-3.57,-3.54,-3.51,-3.48,-3.45,-3.42,-3.39,-3.36,-3.33,-3.30,-3.27,-3.24,-3.21,-3.18,-3.15,-3.12,-3.09,-3.06,-3.03,-3.00,-2.97,-2.94,-2.91,-2.88,-2.85,-2.82,-2.79,-2.76,-2.73,-2.70,-2.67,-2.64,-2.61,-2.58,-2.55,-2.52,-2.49,-2.46,-2.43,-2.40,-2.37,-2.34,-2.31,-2.28,-2.25,-2.22,-2.19,-2.16,-2.13,-2.10,-2.07,-2.04,-2.01,-1.98,-1.95,-1.92,-1.89,-1.86,-1.83,-1.80,-1.76,-1.72,-1.68,-1.62,-1.55,-1.47,-1.42,-1.35,-1.30,-1.24,-1.18,-1.12,-1.08]
br_m8b = [-3.58,-3.52,-3.46,-3.40,-3.34,-3.28,-3.22,-3.16,-3.10,-3.04,-2.98,-2.92,-2.86,-2.80,-2.74,-2.68,-2.62,-2.56,-2.50,-2.44,-2.38,-2.32,-2.26,-2.20,-2.14,-2.08,-2.02,-1.96,-1.90,-1.84,-1.78,-1.70,-1.58,-1.50,-1.38,-1.27]
br_m8c = [-3.55,-3.49,-3.43,-3.37,-3.31,-3.25,-3.19,-3.13,-3.07,-3.01,-2.95,-2.89,-2.83,-2.77,-2.71,-2.65,-2.59,-2.53,-2.47,-2.41,-2.35,-2.29,-2.23,-2.17,-2.11,-2.05,-1.99,-1.93,-1.87,-1.81,-1.74]
br_m7 = [-4.52,-4.50,-4.43,-4.38,-4.30,-4.24,-4.18,-4.15,-4.11,-4.08,-4.04,-4.01,-3.97,-3.94,-3.90,-3.87,-3.83,-3.80,-3.76,-3.73,-3.69,-3.66,-3.62,-3.59,-3.55,-3.52,-3.48,-3.45,-3.41,-3.38,-3.34,-3.31,-3.27,-3.24,-3.20,-3.17,-3.13,-3.10,-3.06,-3.03,-2.99,-2.96,-2.92,-2.89,-2.85,-2.82,-2.78,-2.75,-2.71,-2.68,-2.64,-2.60,-2.55,-2.48,-2.42,-2.37,-2.32]
br_m7b = [-4.16,-4.09,-4.02,-3.95,-3.88,-3.81,-3.74,-3.67,-3.60,-3.53,-3.46,-3.39,-3.32,-3.25,-3.18,-3.11,-3.04,-2.97,-2.90,-2.83,-2.76,-2.69,-2.62]
br_m7c = [-4.13,-4.05,-3.98,-3.91,-3.84,-3.77,-3.70,-3.63,-3.56,-3.49,-3.42,-3.35,-3.28,-3.21,-3.14,-3.07,-3.00,-2.93,-2.86,-2.79,-2.72,-2.65]
br_m6 = [-5.01,-4.95,-4.86,-4.77,-4.60,-4.56,-4.52,-4.48,-4.44,-4.40,-4.36,-4.32,-4.28,-4.24,-4.20,-4.16,-4.12,-4.08,-4.04,-4.00,-3.96,-3.92,-3.88,-3.84,-3.80,-3.76,-3.72,-3.68,-3.64,-3.60,-3.56,-3.52,-3.48,-3.44,-3.40,-3.36,-3.32,-3.28,-3.24,-3.20,-3.16,-3.12,-3.08,-3.04,-3.00,-2.96,-2.92,-2.88,-2.84,-2.80,-2.76,-2.72,-2.68,-2.64,-2.60,-2.48,-2.42,-2.36,-0.78]
br_m6b = [-4.58,-4.50,-4.42,-4.34,-4.26,-4.18,-4.10,-4.02,-3.94,-3.86,-3.78,-3.70,-3.62,-3.54,-3.46,-3.38,-3.30,-3.22,-3.14,-3.06,-2.98,-2.90,-2.82,-2.74,-2.66]
br_m6c = [-4.54,-4.46,-4.38,-4.30,-4.22,-4.14,-4.06,-3.98,-3.90,-3.82,-3.74,-3.66,-3.58,-3.50,-3.42,-3.34,-3.26,-3.18,-3.10,-3.02,-2.94,-2.86,-2.78,-2.70]
br_m5 = [-5.52,-5.25,-5.01,-4.97,-4.90,-4.86,-4.78,-4.72,-4.57,-4.53,-4.49,-4.45,-4.41,-4.37,-4.33,-4.29,-4.25,-4.21,-4.17,-4.13,-4.09,-4.05,-4.01,-3.97,-3.93,-3.89,-3.85,-3.81,-3.77,-3.73,-3.69,-3.65,-3.61,-3.57,-3.53,-3.49,-3.45,-3.41,-3.37,-3.33,-3.29,-3.25,-3.21,-3.17,-3.13,-3.09,-3.05,-3.01,-2.97,-2.93,-2.89,-2.85,-2.81,-2.77,-2.73,-2.68,-2.59]
br_m5b = [-4.55,-4.47,-4.39,-4.31,-4.23,-4.15,-4.07,-3.99,-3.91,-3.83,-3.75,-3.67,-3.59,-3.51,-3.43,-3.35,-3.27,-3.19,-3.11,-3.03,-2.95,-2.87,-2.79]
br_m5c = [-4.51,-4.40,-4.27,-4.13,-4.02,-3.88,-3.72,-3.58,-3.45,-3.30,-3.16,-3.02,-2.88,-2.75]
br_m4 = [-5.03,-4.97,-4.90,-4.86,-4.82,-4.78,-4.74,-4.70,-4.66,-4.62,-4.58,-4.54,-4.50,-4.46,-4.42,-4.38,-4.34,-4.30,-4.26,-4.22,-4.18,-4.14,-4.10,-4.06,-4.02,-3.98,-3.94,-3.90,-3.86,-3.82,-3.78,-3.74,-3.70,-3.66,-3.62,-3.58,-3.54,-3.50,-3.46,-3.42,-3.38,-3.34,-3.30,-3.26,-3.22,-3.18,-3.14,-3.10,-3.06,-3.02,-2.96,-2.90,-2.84,-2.78,-2.70,-2.63]
br_m4b = [-4.88,-4.80,-4.72,-4.64,-4.56,-4.48,-4.40,-4.32,-4.24,-4.16,-4.08,-4.00,-3.92,-3.84,-3.76,-3.68,-3.60,-3.52,-3.44,-3.36,-3.28,-3.20,-3.12,-3.04]
br_m4c = [-4.84,-4.70,-4.57,-4.44,-4.30,-4.17,-4.03,-3.90,-3.77,-3.63,-3.50,-3.37,-3.24,-3.10,-2.98]
br_m3 = [-5.59,-5.57,-5.47,-5.30,-5.23,-5.18,-5.14,-5.10,-5.06,-5.02,-4.98,-4.94,-4.90,-4.86,-4.82,-4.78,-4.74,-4.70,-4.66,-4.62,-4.58,-4.54,-4.50,-4.46,-4.42,-4.38,-4.34,-4.30,-4.26,-4.22,-4.18,-4.14,-4.10,-4.06,-4.02,-3.98,-3.94,-3.90,-3.86,-3.82,-3.78,-3.74,-3.70,-3.66,-3.62,-3.58,-3.54,-3.50,-3.46,-3.42,-3.38,-3.34,-3.30,-3.26,-3.22,-3.18,-3.14,-3.10,-3.06,-3.02,-2.96,-2.90,-2.53]
br_m3b = [-5.16,-5.08,-5.00,-4.92,-4.84,-4.76,-4.68,-4.60,-4.52,-4.44,-4.36,-4.28,-4.20,-4.12,-4.04,-3.96,-3.88,-3.80,-3.72,-3.64,-3.56,-3.48,-3.40,-3.32,-3.24,-3.16,-3.08]
br_m3c = [-5.12,-5.04,-4.96,-4.88,-4.80,-4.72,-4.64,-4.56,-4.48,-4.40,-4.32,-4.24,-4.16,-4.08,-4.00,-3.92,-3.84,-3.76,-3.68,-3.60,-3.52,-3.44,-3.36,-3.28,-3.20,-3.12]
br_m2 = [-5.59,-5.58,-5.55,-5.50,-5.40,-5.35,-5.26,-5.22,-5.18,-5.15,-5.11,-5.08,-5.04,-5.01,-4.97,-4.94,-4.90,-4.87,-4.83,-4.80,-4.76,-4.73,-4.69,-4.66,-4.62,-4.59,-4.55,-4.52,-4.48,-4.45,-4.41,-4.38,-4.34,-4.31,-4.27,-4.24,-4.20,-4.17,-4.13,-4.10,-4.06,-4.03,-3.99,-3.96,-3.92,-3.89,-3.85,-3.82,-3.78,-3.75,-3.71,-3.68,-3.64,-3.61,-3.57,-3.54,-3.50,-3.47,-3.43,-3.40,-3.36,-3.33,-3.29,-3.26,-3.22,-3.18,-3.10,-3.00,-2.92,-2.80,-2.70,-2.62,-2.45,-2.36]
br_m2b = [-5.24,-5.17,-5.10,-5.03,-4.96,-4.89,-4.82,-4.75,-4.68,-4.61,-4.54,-4.47,-4.40,-4.33,-4.26,-4.19,-4.12,-4.05,-3.98,-3.91,-3.84,-3.77,-3.70,-3.63,-3.56,-3.49,-3.42,-3.35,-3.28,-3.21]
br_m2c = [-5.21,-5.14,-5.07,-5.00,-4.93,-4.86,-4.79,-4.72,-4.65,-4.58,-4.51,-4.44,-4.37,-4.30,-4.23,-4.16,-4.09,-4.02,-3.95,-3.88,-3.81,-3.74,-3.67,-3.60,-3.53,-3.46,-3.39,-3.32,-3.25]
br_m1 = [-5.59,-5.58,-5.55,-5.52,-5.47,-5.42,-5.35,-5.30,-5.27,-5.24,-5.21,-5.18,-5.15,-5.12,-5.09,-5.06,-5.03,-5.00,-4.97,-4.94,-4.91,-4.88,-4.85,-4.82,-4.79,-4.76,-4.73,-4.70,-4.67,-4.64,-4.61,-4.58,-4.55,-4.52,-4.49,-4.46,-4.43,-4.40,-4.37,-4.34,-4.31,-4.28,-4.25,-4.22,-4.19,-4.16,-4.13,-4.10,-4.07,-4.04,-4.01,-3.98,-3.95,-3.92,-3.89,-3.86,-3.83,-3.80,-3.77,-3.74,-3.71,-3.68,-3.65,-3.62,-3.59,-3.56,-3.53,-3.50,-3.47,-3.44,-3.41,-3.38,-3.35,-3.32,-3.29,-3.26,-3.22,-3.17,-3.10,-3.02,-2.95,-2.88,-2.78,-2.70,-2.60,-2.55,-2.43]
br_m1b = [-5.26,-5.20,-5.14,-5.08,-5.02,-4.96,-4.90,-4.84,-4.78,-4.72,-4.66,-4.60,-4.54,-4.48,-4.42,-4.36,-4.30,-4.24,-4.18,-4.12,-4.06,-4.00,-3.94,-3.88,-3.82,-3.76,-3.70,-3.64,-3.58,-3.52,-3.46,-3.40,-3.34,-3.28,-3.22,-3.16]
br_m1c = [-5.23,-5.17,-5.11,-5.05,-4.99,-4.93,-4.87,-4.81,-4.75,-4.69,-4.63,-4.57,-4.51,-4.45,-4.39,-4.33,-4.27,-4.21,-4.15,-4.09,-4.03,-3.97,-3.91,-3.85,-3.79,-3.73,-3.67,-3.61,-3.55,-3.49,-3.43,-3.37,-3.31,-3.25,-3.19]

# ================= highlighted barcodes: (log10 x, m, colour) =================
tl_hl = [(-4.45,6.88,"b"),(-4.21,7.13,"b"),(-4.02,6.93,"b"),(-3.42,6.96,"b"),(-3.12,7.05,"b"),(-2.54,6.88,"b"),(-1.51,6.98,"b"),
         (-3.83,6.98,"c"),(-3.56,7.14,"c"),(-2.99,6.97,"c"),(-2.90,7.00,"c"),(-2.79,6.98,"c"),(-2.70,7.10,"c"),(-1.60,6.83,"c"),
         (-4.32,4.07,"g"),(-3.48,4.02,"g"),(-3.26,4.08,"g"),(-1.23,4.03,"g"),
         (-3.06,2.93,"mg"),(-2.97,3.00,"mg"),(-1.66,3.07,"mg"),
         (-4.25,1.97,"k"),(-1.86,1.88,"k"),(-3.07,2.02,"r"),(-1.81,2.02,"r")]
tl_x = [(-3.10,8.05),(-2.48,8.07),(-2.42,7.98),(-2.35,8.12),(-2.35,7.94),(-2.39,7.77),(-2.16,8.07),(-0.48,8.02)]

tr_hl = [(-3.89,6.97,"b"),(-3.83,6.88,"b"),(-3.43,7.00,"b"),(-3.33,7.03,"b"),(-3.28,7.12,"b"),(-3.03,6.98,"b"),(-2.76,6.95,"b"),(-2.54,6.88,"b"),
         (-3.55,6.98,"c"),(-3.47,6.98,"c"),(-3.12,6.97,"c"),(-2.95,7.14,"c"),(-2.86,6.84,"c"),(-2.67,7.15,"c"),
         (-3.94,3.98,"g"),(-3.80,3.88,"g"),(-3.40,4.06,"g"),(-3.29,4.02,"g"),
         (-4.30,3.00,"mg"),(-4.21,3.20,"mg"),(-3.91,2.93,"mg"),(-3.91,2.87,"mg"),(-3.82,3.07,"mg"),(-3.48,3.08,"mg"),(-3.28,2.93,"mg"),
         (-4.66,2.00,"k"),(-4.35,2.08,"k"),(-4.08,1.97,"k"),(-4.06,1.98,"r"),(-3.89,1.97,"r")]
tr_x = [(-2.51,8.05),(-2.48,8.05),(-2.38,8.07),(-2.32,8.00),(-2.29,7.95),(-2.32,7.77),(-2.21,8.13),(-2.06,7.99)]

bl_hl = [(-4.53,5.84,"b"),(-4.25,6.00,"b"),(-3.27,5.95,"b"),(-2.59,5.93,"b"),(-2.39,6.07,"b"),(-1.66,5.92,"b"),
         (-3.81,6.00,"r"),(-3.64,6.04,"r"),(-3.38,5.95,"r"),(-3.37,5.94,"r"),(-2.49,5.82,"r"),(-0.63,6.00,"r"),
         (-4.32,5.88,"g"),(-3.75,5.97,"g"),(-3.74,5.84,"g"),(-3.68,5.83,"g"),(-3.55,5.93,"g"),(-1.44,5.78,"g"),
         (-4.33,3.88,"c"),(-3.67,4.10,"c"),(-3.31,4.10,"c"),(-1.87,3.90,"c"),
         (-1.92,1.10,"mg")]
bl_x = [(-1.43,8.18),(-1.11,8.15),(-1.05,8.03),(-1.08,7.93),(-0.96,8.08),(-0.94,7.93),(-0.72,8.18),(-0.22,8.03)]

br_hl = [(-4.00,5.87,"r"),(-3.70,5.97,"r"),(-3.60,6.05,"r"),(-3.60,5.82,"r"),(-3.48,5.87,"r"),(-3.46,6.02,"r"),(-3.39,5.98,"r"),(-3.22,5.93,"r"),
         (-3.84,6.07,"b"),(-3.25,6.02,"b"),(-3.12,5.93,"b"),(-3.07,6.00,"b"),(-3.03,6.06,"b"),(-2.96,5.98,"b"),(-2.83,5.97,"b"),
         (-3.48,5.95,"g"),(-3.42,5.92,"g"),(-3.36,6.00,"g"),(-3.29,6.05,"g"),(-3.20,6.15,"g"),(-3.18,6.02,"g"),(-2.69,6.02,"g"),
         (-4.90,4.05,"c"),(-4.60,4.05,"c"),(-4.56,4.10,"c"),(-4.07,3.98,"c"),(-4.00,3.95,"c"),(-4.05,3.80,"c"),(-3.46,4.07,"c"),
         (-4.90,0.95,"mg"),(-4.83,0.98,"mg"),(-4.56,0.92,"mg"),(-4.28,1.02,"mg"),(-4.22,1.03,"mg"),(-4.17,1.01,"mg"),(-3.93,1.02,"mg"),(-3.77,1.10,"mg")]
br_x = [(-1.14,7.96),(-1.04,7.98),(-1.00,8.03),(-0.98,7.95),(-0.94,8.10),(-0.88,8.18),(-0.92,7.88)]

M_LEVELS = [1, 2, 3, 4, 5, 6, 7, 8]

# -------------------------------------------------------------------------
SUP = {"-": "\u207b", "0": "\u2070", "1": "\u00b9", "2": "\u00b2", "3": "\u00b3",
       "4": "\u2074", "5": "\u2075", "6": "\u2076"}
_e = "'' + round(log(datum.value) / LN10)"
for k, v in SUP.items():
    _e = f"replace({_e}, '{k}', '{v}')"
LABEL_EXPR = "'10' + " + _e

W_LEFT, W_RIGHT, H = 496, 494, 283
PHASES = [(3, 7, 0), (5, 11, 17), (7, 13, 29)]


def gray_rows(bands, top_color):
    rows = []
    for band in bands:
        m = band[0]
        col = top_color if m == 8 else GRAY
        for (a, b, c), xs in zip(PHASES, band[1:]):
            for i, e in enumerate(xs):
                rows.append({"x": 10 ** e, "m": m + JIT[(i * a + m * b + c) % len(JIT)], "c": col})
    return pd.DataFrame(rows)


def minors_between(d0, d1, lo, hi):
    out = []
    for d in range(d0, d1):
        for k in range(2, 10):
            v = k * 10.0 ** d
            if lo < v < hi:
                out.append(v)
    return out


def panel(bands, top_color, hl, xmarks, lo, hi, majors, minors, show_m, width, title=None):
    xscale = alt.Scale(type="log", domain=[lo, hi], nice=False)
    yscale = alt.Scale(domain=[0, 9], nice=False, zero=False)
    X = alt.X("x:Q", scale=xscale,
              axis=alt.Axis(values=majors, labelExpr=LABEL_EXPR, title="x", grid=True,
                            ticks=False, domain=False, labelFontSize=15, labelPadding=5,
                            titleFontSize=23, titlePadding=4, titleFontWeight="normal",
                            gridColor="#e4e4e4"))
    Y = alt.Y("m:Q", scale=yscale,
              axis=alt.Axis(values=M_LEVELS, title="m" if show_m else None, grid=True,
                            ticks=False, domain=False, labelFontSize=15, labelPadding=6,
                            titleFontSize=27, titlePadding=3, titleFontWeight="normal",
                            gridColor="#e4e4e4"))
    mdf = pd.DataFrame({"x": minors})
    gdf = pd.DataFrame({"x": majors})
    ldf = pd.DataFrame({"m": M_LEVELS})
    minor = alt.Chart(mdf).mark_rule(color="#c4c4c4", strokeDash=[1, 2], strokeWidth=0.8).encode(x=X)
    # inward tick marks on all four sides (MATLAB box style)
    mt_b = alt.Chart(mdf).mark_rule(color=FRAME, strokeWidth=0.8).encode(
        x=X, y=alt.value(H), y2=alt.value(H - 3))
    mt_t = alt.Chart(mdf).mark_rule(color=FRAME, strokeWidth=0.8).encode(
        x=X, y=alt.value(0), y2=alt.value(3))
    Mt_b = alt.Chart(gdf).mark_rule(color=FRAME, strokeWidth=0.8).encode(
        x=X, y=alt.value(H), y2=alt.value(H - 5))
    Mt_t = alt.Chart(gdf).mark_rule(color=FRAME, strokeWidth=0.8).encode(
        x=X, y=alt.value(0), y2=alt.value(5))
    yt_l = alt.Chart(ldf).mark_rule(color=FRAME, strokeWidth=0.8).encode(
        y=Y, x=alt.value(0), x2=alt.value(5))
    yt_r = alt.Chart(ldf).mark_rule(color=FRAME, strokeWidth=0.8).encode(
        y=Y, x=alt.value(width), x2=alt.value(width - 5))
    pts = alt.Chart(gray_rows(bands, top_color)).mark_point(
        shape="circle", filled=False, size=36, strokeWidth=1.1, opacity=1
    ).encode(x=X, y=Y, color=alt.Color("c:N", scale=None))
    hdf = pd.DataFrame([{"x": 10 ** e, "m": m, "c": COL[c]} for e, m, c in hl])
    hpts = alt.Chart(hdf).mark_point(
        shape="circle", filled=False, size=38, strokeWidth=1.4, opacity=1
    ).encode(x=X, y=Y, color=alt.Color("c:N", scale=None))
    xdf = pd.DataFrame([{"x": 10 ** e, "m": m} for e, m in xmarks])
    xs = alt.Chart(xdf).mark_point(
        shape="M-1,-1L1,1M-1,1L1,-1", filled=False, size=22, strokeWidth=1.3,
        color="#ff0000", opacity=1
    ).encode(x=X, y=Y)
    ch = alt.layer(minor, pts, hpts, xs, mt_b, mt_t, Mt_b, Mt_t, yt_l, yt_r).properties(
        width=width, height=H)
    if title is not None:
        ch = ch.properties(title=title)
    return ch


def arrows(title):
    yscale = alt.Scale(domain=[0, 9], nice=False, zero=False)
    df = pd.DataFrame({"m": M_LEVELS})
    Y = alt.Y("m:Q", scale=yscale, axis=None)
    line = alt.Chart(df).mark_rule(color="black", strokeWidth=2).encode(
        x=alt.value(14), x2=alt.value(82), y=Y)
    head = alt.Chart(df).mark_point(
        shape="M1,0L-1,-0.75L-1,0.75Z", filled=True, size=169, color="black", opacity=1
    ).encode(x=alt.value(85.5), y=Y)
    return alt.layer(line, head).properties(
        width=110, height=H, title=title, view=alt.ViewBackground(strokeOpacity=0))


def ttl(text, size, italic=False, offset=24, dx=0):
    kw = dict(text=text, fontSize=size, font=FONT, fontWeight="normal", anchor="middle",
              offset=offset, frame="group", color="black", dx=dx)
    if italic:
        kw["fontStyle"] = "italic"
    return alt.TitleParams(**kw)


tl = panel([(8, tl_m8, tl_m8b, tl_m8c), (7, tl_m7, tl_m7b, tl_m7c), (6, tl_m6, tl_m6b, tl_m6c),
            (5, tl_m5, tl_m5b, tl_m5c), (4, tl_m4, tl_m4b, tl_m4c), (3, tl_m3, tl_m3b, tl_m3c),
            (2, tl_m2, tl_m2b, tl_m2c), (1, tl_m1, tl_m1b, tl_m1c)],
           LIGHT, tl_hl, tl_x, 1e-5, 1.0, [1e-4, 1e-3, 1e-2, 1e-1, 1.0],
           minors_between(-5, 0, 1e-5, 1.0), True, W_LEFT,
           ttl("barcodes at medium initial conc.", 17, offset=26))
tr = panel([(8, tr_m8, tr_m8b, tr_m8c), (7, tr_m7, tr_m7b, tr_m7c), (6, tr_m6, tr_m6b, tr_m6c),
            (5, tr_m5, tr_m5b, tr_m5c), (4, tr_m4, tr_m4b, tr_m4c), (3, tr_m3, tr_m3b, tr_m3c),
            (2, tr_m2, tr_m2b, tr_m2c), (1, tr_m1, tr_m1b, tr_m1c)],
           GRAY, tr_hl, tr_x, 1e-5, 1e-1, [1e-5, 1e-4, 1e-3, 1e-2, 1e-1],
           minors_between(-5, -1, 1e-5, 1e-1), False, W_RIGHT,
           ttl("same barcodes at high initial conc.", 17, offset=26, dx=12))
bl = panel([(8, bl_m8, bl_m8b, bl_m8c), (7, bl_m7, bl_m7b, bl_m7c), (6, bl_m6, bl_m6b, bl_m6c),
            (5, bl_m5, bl_m5b, bl_m5c), (4, bl_m4, bl_m4b, bl_m4c), (3, bl_m3, bl_m3b, bl_m3c),
            (2, bl_m2, bl_m2b, bl_m2c), (1, bl_m1, bl_m1b, bl_m1c)],
           LIGHT, bl_hl, bl_x, 3e-6, 1.0, [1e-5, 1e-4, 1e-3, 1e-2, 1e-1, 1.0],
           minors_between(-6, 0, 3e-6, 1.0), True, W_LEFT)
br = panel([(8, br_m8, br_m8b, br_m8c), (7, br_m7, br_m7b, br_m7c), (6, br_m6, br_m6b, br_m6c),
            (5, br_m5, br_m5b, br_m5c), (4, br_m4, br_m4b, br_m4c), (3, br_m3, br_m3b, br_m3c),
            (2, br_m2, br_m2b, br_m2c), (1, br_m1, br_m1b, br_m1c)],
           GRAY, br_hl, br_x, 1e-6, 1.0, [1e-6, 1e-5, 1e-4, 1e-3, 1e-2, 1e-1, 1.0],
           minors_between(-6, 0, 1e-6, 1.0), False, W_RIGHT)

a1 = arrows(ttl("S. G4A3", 22, italic=True, offset=23, dx=3))
a2 = arrows(ttl("S. albus J1074", 24, italic=True, offset=17, dx=-18))

chart = alt.concat(
    tl, a1, tr, bl, a2, br, columns=3,
    spacing={"row": 127, "column": 10}, bounds="flush"
).resolve_scale(x="independent", y="independent").properties(
    padding={"left": 1, "top": 4, "right": 0, "bottom": 0}, background="white"
).configure_view(
    stroke=FRAME, strokeWidth=1
).configure_axis(
    labelFont=FONT, titleFont=FONT, labelColor=FRAME, titleColor="#000000",
    titleFontWeight="normal"
)

chart.save("out.html", embed_options={"renderer": "svg", "actions": False})
